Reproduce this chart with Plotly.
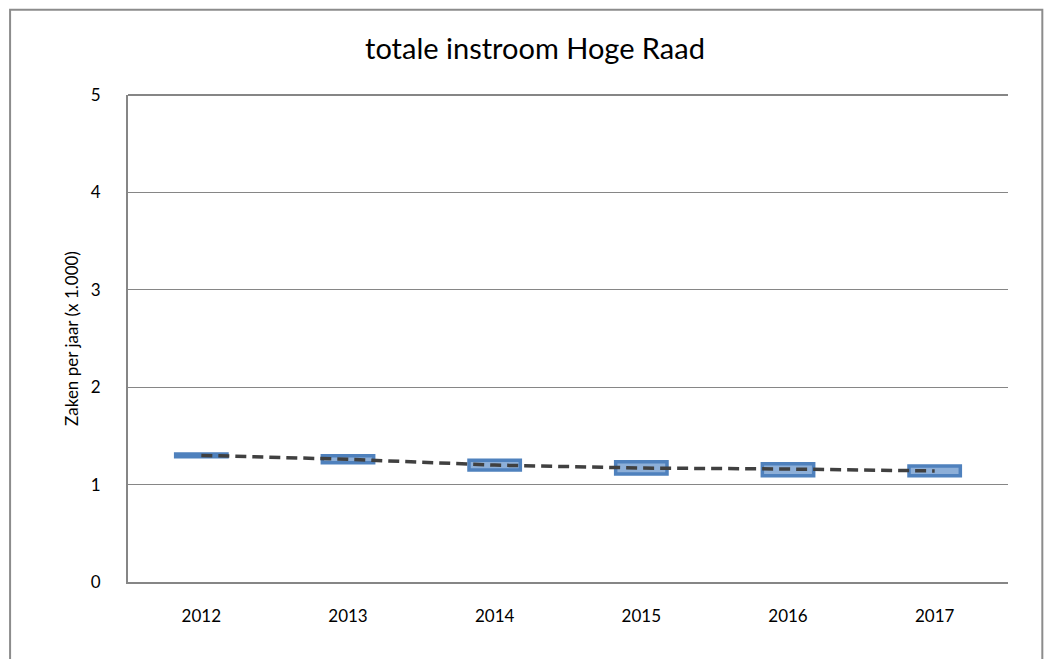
import plotly.graph_objects as go

jaren = ['2012', '2013', '2014', '2015', '2016', '2017']
laag = [1.285, 1.225, 1.15, 1.11, 1.09, 1.09]
hoog = [1.315, 1.295, 1.25, 1.235, 1.215, 1.19]
midden = [1.30, 1.26, 1.20, 1.17, 1.16, 1.14]

fig = go.Figure()

fig.add_trace(go.Bar(
    x=jaren,
    y=[h - l for h, l in zip(hoog, laag)],
    base=laag,
    width=0.35,
    marker=dict(color='#8DAFD8', line=dict(color='#4F81BD', width=3.5)),
    showlegend=False,
))

fig.add_trace(go.Scatter(
    x=jaren,
    y=midden,
    mode='lines',
    line=dict(color='#404040', width=3.5, dash='11px,6px'),
    showlegend=False,
))

# outer chart border
fig.add_shape(type='rect', xref='paper', yref='paper',
              x0=-0.134, x1=1.039, y0=-0.17, y1=1.175,
              line=dict(color='#8c8c8c', width=2))

fig.update_layout(
    title=dict(text='totale instroom Hoge Raad', x=0.5, xanchor='center',
               y=0.938, yanchor='middle',
               font=dict(family='Lato', size=29, color='#000000')),
    width=1054,
    height=659,
    margin=dict(l=120, r=54, t=87, b=85),
    plot_bgcolor='white',
    paper_bgcolor='white',
    font=dict(family='Lato', size=17, color='#000000'),
    xaxis=dict(
        showgrid=False,
        showline=True,
        linecolor='#868686',
        linewidth=2,
        ticks='',
        ticklabelstandoff=18,
        tickfont=dict(size=17),
    ),
    yaxis=dict(
        range=[0, 5],
        dtick=1,
        showgrid=True,
        gridcolor='#868686',
        gridwidth=1,
        showline=True,
        linecolor='#868686',
        linewidth=2,
        zeroline=False,
        ticks='',
        ticklabelstandoff=22,
        tickfont=dict(size=17),
        title=dict(text='Zaken per jaar (x 1.000)', standoff=8,
                   font=dict(size=17)),
    ),
)

# top border of plot area
fig.add_shape(type='line', xref='paper', yref='paper', x0=0, x1=1, y0=1, y1=1,
              line=dict(color='#868686', width=2))

fig.write_html("out.html")
